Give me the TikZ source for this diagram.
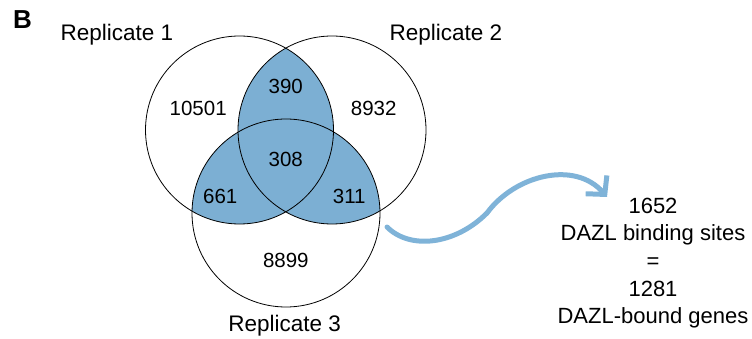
\documentclass[tikz,border=0pt]{standalone}
\usepackage{fontspec}
\setmainfont{Liberation Sans}
\usetikzlibrary{arrows.meta,positioning}
\definecolor{vennblue}{RGB}{124,175,211}
\definecolor{arrowblue}{RGB}{127,179,216}
\tikzset{
  venn/.style={draw=black, circle, line width=0.8pt, minimum size=188pt, inner sep=0pt},
  count/.style={font=\fontsize{20.5}{24}\selectfont, inner sep=0pt, anchor=base},
  setlabel/.style={font=\fontsize{22.5}{26}\selectfont, inner sep=0pt, anchor=base},
  infoline/.style={font=\fontsize{22}{26}\selectfont, inner sep=0pt, text height=16pt, text depth=0pt},
  panel/.style={font=\fontsize{26}{30}\selectfont\bfseries, inner sep=0pt, anchor=base},
  bigarrow/.style={-{Straight Barb[length=13pt,width=28pt]}, line width=5pt, draw=arrowblue, line cap=round}
}
\begin{document}
\begin{tikzpicture}[x=1pt,y=-1pt]
\useasboundingbox (0,0) rectangle (752,339);
\coordinate (c1) at (239.5,130);
\coordinate (c2) at (332,130);
\coordinate (c3) at (286,213);
% shaded overlaps
\begin{scope}
  \clip (c1) circle (94pt);
  \fill[vennblue] (c2) circle (94pt);
  \fill[vennblue] (c3) circle (94pt);
\end{scope}
\begin{scope}
  \clip (c2) circle (94pt);
  \fill[vennblue] (c3) circle (94pt);
\end{scope}
\node[venn] (rep1) at (c1) {};
\node[venn] (rep2) at (c2) {};
\node[venn] (rep3) at (c3) {};
% counts
\node[count] (only1) at (198.2,116) {10501};
\node[count] (only2) at (373.7,116) {8932};
\node[count] (only3) at (285.8,267.3) {8899};
\node[count] (both12) at (285.8,93.3) {390};
\node[count] (both13) at (220.3,204) {661};
\node[count] (both23) at (349.2,204) {311};
\node[count] (all) at (285.8,166.7) {308};
% labels
\node[panel] (panelB) at (22.5,28.5) {B};
\node[setlabel] (lab1) at (117,40.7) {Replicate 1};
\node[setlabel] (lab2) at (445.8,40.7) {Replicate 2};
\node[setlabel] (lab3) at (284.7,331.7) {Replicate 3};
% summary
\node[infoline, anchor=base] (sites) at (653,213.3) {1652};
\node[infoline, below=11.2pt of sites] (sitestxt) {DAZL binding sites};
\node[infoline, below=11.2pt of sitestxt] (equals) {=};
\node[infoline, below=11.2pt of equals] (genes) {1281};
\node[infoline, below=11.2pt of genes] (genestxt) {DAZL-bound genes};
% arrow
\coordinate (arrowstart) at (387,227);
\coordinate (arrowend) at (607,197);
\draw[bigarrow] (arrowstart) .. controls (410,250) and (455,245) .. (487,213)
  .. controls (515,175) and (575,160) .. (arrowend);
\end{tikzpicture}
\end{document}
